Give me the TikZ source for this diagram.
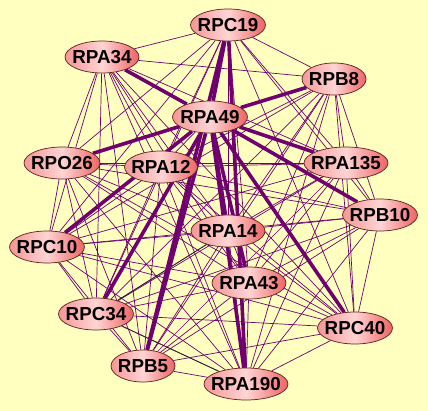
\documentclass[tikz,border=0pt]{standalone}
\usepackage{fontspec}
\setmainfont{Liberation Sans}
\usetikzlibrary{shapes.geometric}
\definecolor{bgc}{RGB}{255,255,192}
\definecolor{edgec}{RGB}{112,0,112}
\definecolor{nodeborder}{RGB}{96,32,32}
\definecolor{nodeleft}{RGB}{244,150,150}
\definecolor{nodemid}{RGB}{255,212,212}
\definecolor{noderight}{RGB}{238,100,100}
\pgfdeclarelayer{bgl}
\pgfdeclarelayer{edges}
\pgfsetlayers{bgl,edges,main}
\begin{document}
\begin{tikzpicture}[x=1pt,y=-1pt,
  prot/.style={ellipse, draw=nodeborder, line width=0.7pt,
    left color=nodeleft, right color=noderight, middle color=nodemid,
    minimum height=32pt, inner sep=0pt},
  lab/.style={font=\fontsize{18.8}{19}\selectfont\bfseries, inner sep=0pt, text=black},
  thinedge/.style={draw=edgec, line width=0.7pt},
  blackedge/.style={draw=black!85, line width=0.7pt},
  thickedge/.style={draw=edgec, line width=3.6pt}]
\begin{pgfonlayer}{bgl}
\fill[bgc] (0,0) rectangle (428,411);
\end{pgfonlayer}
\useasboundingbox (0,0) rectangle (428,411);

\node[prot, minimum width=75pt, label={[lab]center:RPC19}]  (RPC19)  at (228,25)  {};
\node[prot, minimum width=74pt, label={[lab]center:RPA34}]  (RPA34)  at (102,57)  {};
\node[prot, minimum width=64pt, label={[lab]center:RPB8}]   (RPB8)   at (334,79)  {};
\node[prot, minimum width=75pt, label={[lab]center:RPA49}]  (RPA49)  at (210,117) {};
\node[prot, minimum width=76pt, label={[lab]center:RPO26}]  (RPO26)  at (62,163)  {};
\node[prot, minimum width=73pt, label={[lab]center:RPA12}]  (RPA12)  at (161,167) {};
\node[prot, minimum width=84pt, label={[lab]center:RPA135}] (RPA135) at (346,163) {};
\node[prot, minimum width=75pt, label={[lab]center:RPB10}]  (RPB10)  at (380,215) {};
\node[prot, minimum width=75pt, label={[lab]center:RPC10}]  (RPC10)  at (47,247)  {};
\node[prot, minimum width=74pt, label={[lab]center:RPA14}]  (RPA14)  at (228,231) {};
\node[prot, minimum width=74pt, label={[lab]center:RPA43}]  (RPA43)  at (249,283) {};
\node[prot, minimum width=75pt, label={[lab]center:RPC34}]  (RPC34)  at (96,314)  {};
\node[prot, minimum width=75pt, label={[lab]center:RPC40}]  (RPC40)  at (355,328) {};
\node[prot, minimum width=64pt, label={[lab]center:RPB5}]   (RPB5)   at (143,366) {};
\node[prot, minimum width=84pt, label={[lab]center:RPA190}] (RPA190) at (246,384) {};

\def\names{RPC19,RPA34,RPB8,RPA49,RPO26,RPA12,RPA135,RPB10,RPC10,RPA14,RPA43,RPC34,RPC40,RPB5,RPA190}
\begin{pgfonlayer}{edges}
\foreach \a [count=\i] in \names {
  \foreach \b [count=\j] in \names {
    \ifnum\j>\i \draw[thinedge] (\a) -- (\b); \fi
  }
}
\draw[blackedge] (RPC34) -- (RPA14);
\draw[blackedge] (RPC34) -- (RPA190);
\foreach \b in {RPC19,RPA34,RPO26,RPB8,RPA135,RPB10,RPC40,RPA14,RPA43,RPA190,RPB5,RPC34,RPC10}
  \draw[thickedge] (RPA49) -- (\b);
\draw[thickedge] (RPC19) -- (RPB5);
\draw[thickedge] (RPC19) -- (RPA190);
\end{pgfonlayer}
\end{tikzpicture}
\end{document}
